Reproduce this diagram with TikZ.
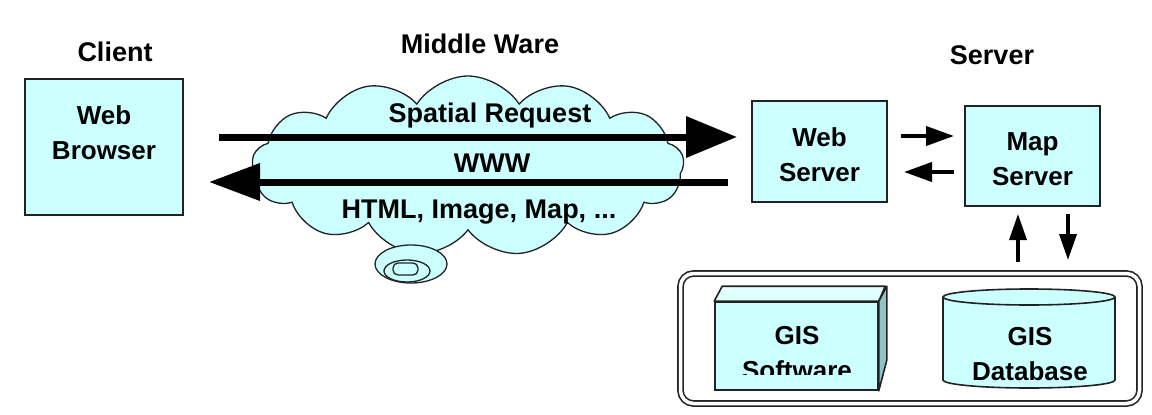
\documentclass[tikz,border=0pt]{standalone}
\usepackage{fontspec}
\setmainfont{Liberation Sans}
\usetikzlibrary{shapes.symbols,arrows.meta}
\definecolor{boxfill}{HTML}{CCFFFF}
\definecolor{boxtop}{HTML}{E0FFFF}
\definecolor{boxside}{HTML}{8FC4C4}
\definecolor{edge}{HTML}{222222}
\tikzset{
  txt/.style={font=\bfseries\fontsize{26}{35}\selectfont, align=center, inner sep=0pt},
  head/.style={font=\bfseries\fontsize{27}{35}\selectfont, inner sep=0pt},
  box/.style={draw=edge, line width=2pt, fill=boxfill, inner sep=0pt},
  bigarrow/.style={line width=7pt, -{Triangle[length=51pt,width=40pt]}},
  bigarrowb/.style={line width=7pt, -{Triangle[length=51pt,width=36pt]}},
  smallarrow/.style={line width=4pt, -{Triangle[length=28pt,width=19pt]}},
  vertarrow/.style={line width=3.5pt, -{Triangle[length=26pt,width=17pt]}},
}
\begin{document}
\begin{tikzpicture}[x=1pt,y=-1pt]
\useasboundingbox[fill=white] (0,0) rectangle (1152,415);

% headings
\node[head] (hclient) at (115,52) {Client};
\node[head] (hmid) at (480,44) {Middle Ware};
\node[head] (hserver) at (992,55) {Server};

% cloud
\node[cloud, cloud puffs=13, cloud puff arc=115, draw=edge, line width=1.3pt, fill=boxfill,
      minimum width=432pt, minimum height=180pt] (cloud) at (468,166) {};
\draw[edge, line width=1.3pt, fill=boxfill] (411,264) ellipse [x radius=36, y radius=19];
\draw[edge, line width=1.3pt] (407,271) ellipse [x radius=23, y radius=11];
\node[draw=edge, line width=1.3pt, rounded corners=5pt, minimum width=25pt, minimum height=12pt, inner sep=0pt] (bub) at (405.5,269) {};

% client
\node[box, minimum width=158pt, minimum height=136pt] (wb) at (104,147) {};
\node[txt] (wbt) at (104,133) {Web\\Browser};

% servers
\node[box, minimum width=135pt, minimum height=101pt] (ws) at (819.5,151.5) {};
\node[txt] (wst) at (819.5,155) {Web\\Server};
\node[box, minimum width=135pt, minimum height=100pt] (ms) at (1032.5,156) {};
\node[txt] (mst) at (1032.5,159.5) {Map\\Server};

% cloud texts
\node[head] (sreq) at (490,116) {Spatial Request};
\node[head] (www) at (492,163) {WWW};
\node[head] (html) at (479,212) {HTML, Image, Map, ...};

% big arrows
\coordinate (reqstart) at (219,137);
\coordinate (resend) at (209,182);
\draw[bigarrow] (reqstart) -- ([shift={(-14,-14.5)}]ws.west);
\draw[bigarrowb] ([shift={(-23,30.5)}]ws.west) -- (resend);

% server arrows
\draw[smallarrow] ([shift={(13,-15.5)}]ws.east) -- ([shift={(-10,-20)}]ms.west);
\draw[smallarrow] ([shift={(-10,16)}]ms.west) -- ([shift={(16,20.5)}]ws.east);

% storage container
\node[draw=edge, line width=1.6pt, double=white, double distance=3.5pt, rounded corners=13pt,
      minimum width=459pt, minimum height=130pt, inner sep=0pt] (store) at (910,338.5) {};

% GIS software cuboid
\node[box, line width=1.6pt, minimum width=163pt, minimum height=88pt] (sw) at (796.5,346) {};
\draw[edge, line width=1.6pt, fill=boxtop, line join=round] (sw.north west) -- ++(8,-15) -- ++(163,0) -- (sw.north east) -- cycle;
\draw[edge, line width=1.6pt, fill=boxside, line join=round] (sw.north east) -- ++(8,-15) -- ++(0,74) -- (sw.south east) -- cycle;
\begin{scope}
\clip (700,300) rectangle (900,374);
\node[txt] (swt) at (797,353) {GIS\\Software};
\end{scope}

% GIS database cylinder
\draw[edge, line width=1.6pt, fill=boxfill] (1029,380) ellipse [x radius=86, y radius=8];
\fill[boxfill] (943,297) rectangle (1115,380);
\draw[edge, line width=1.6pt] (943,297) -- (943,380) (1115,297) -- (1115,380);
\draw[edge, line width=1.6pt, fill=boxfill] (1029,297) ellipse [x radius=86, y radius=8];
\node[txt] (dbt) at (1030,354) {GIS\\Database};

% vertical arrows
\coordinate (upstart) at (1018,262);
\coordinate (downend) at (1068,260);
\draw[vertarrow] (upstart) -- ([shift={(-14.5,7)}]ms.south);
\draw[vertarrow] ([shift={(35.5,7)}]ms.south) -- (downend);
\end{tikzpicture}
\end{document}
